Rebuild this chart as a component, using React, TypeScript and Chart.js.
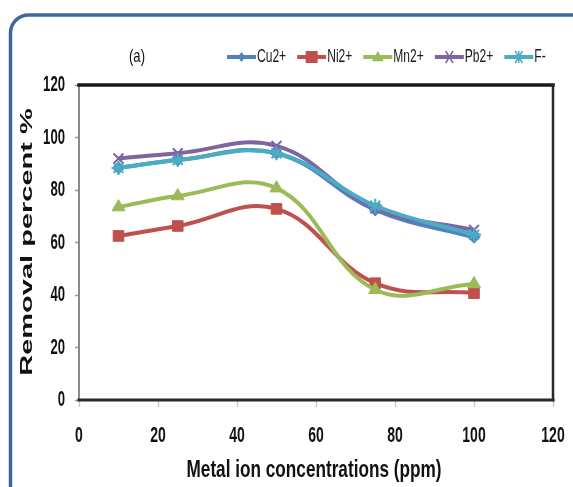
import React, { useEffect, useRef } from 'react';
import { Chart, registerables } from 'chart.js';

Chart.register(...registerables);

// ---- data ----
const concentrations = [10, 25, 50, 75, 100];
const cuValues = [88.4, 91.4, 94.0, 72.4, 62.0];
const niValues = [62.5, 66.3, 72.8, 44.5, 40.7];
const mnValues = [73.5, 77.7, 80.7, 42.0, 44.2];
const pbValues = [92.0, 94.0, 96.8, 73.0, 64.8];
const fValues = [88.4, 91.4, 94.0, 74.0, 63.0];
const seriesLabels = ['Cu2+', 'Ni2+', 'Mn2+', 'Pb2+', 'F-'];
const xTickValues = [0, 20, 40, 60, 80, 100, 120];
const yTickValues = [0, 20, 40, 60, 80, 100, 120];
const panelLabel = '(a)';
const xTitle = 'Metal ion concentrations (ppm)';
const yTitle = 'Removal percent %';

const colors = ['#4F81BD', '#C0504D', '#9BBB59', '#8064A2', '#4BACC6'];
const pointStyles = ['rectRot', 'rect', 'triangle', 'crossRot', 'star'];
const pointRadii = [6, 7.5, 7.5, 7, 7];
const drawOrder = [5, 4, 3, 2, 1];
const allValues = [cuValues, niValues, mnValues, pbValues, fValues];

const SANS = '"Liberation Sans", Arial, sans-serif';

function drawSqueezed(
  ctx: CanvasRenderingContext2D,
  text: string,
  x: number,
  y: number,
  font: string,
  sx: number,
  align: 'left' | 'center' | 'right',
  baseline: CanvasTextBaseline = 'middle'
) {
  ctx.save();
  ctx.font = font;
  ctx.textBaseline = baseline;
  ctx.textAlign = align;
  ctx.translate(x, y);
  ctx.scale(sx, 1);
  ctx.fillText(text, 0, 0);
  ctx.restore();
}

function measure(ctx: CanvasRenderingContext2D, text: string, font: string) {
  ctx.save();
  ctx.font = font;
  const w = ctx.measureText(text).width;
  ctx.restore();
  return w;
}

function drawFitted(
  ctx: CanvasRenderingContext2D,
  text: string,
  x: number,
  y: number,
  font: string,
  width: number,
  align: 'left' | 'center' | 'right',
  baseline: CanvasTextBaseline = 'middle'
) {
  const sx = width / measure(ctx, text, font);
  drawSqueezed(ctx, text, x, y, font, sx, align, baseline);
}

function drawMarker(ctx: CanvasRenderingContext2D, style: string, x: number, y: number, r: number, color: string) {
  ctx.save();
  ctx.fillStyle = color;
  ctx.strokeStyle = color;
  ctx.lineWidth = 1.5;
  ctx.beginPath();
  if (style === 'rectRot') {
    ctx.moveTo(x, y - r);
    ctx.lineTo(x + r * 0.75, y);
    ctx.lineTo(x, y + r);
    ctx.lineTo(x - r * 0.75, y);
    ctx.closePath();
    ctx.fill();
  } else if (style === 'rect') {
    ctx.rect(x - r, y - r, 2 * r, 2 * r);
    ctx.fill();
  } else if (style === 'triangle') {
    ctx.moveTo(x, y - r);
    ctx.lineTo(x + r, y + r * 0.7);
    ctx.lineTo(x - r, y + r * 0.7);
    ctx.closePath();
    ctx.fill();
  } else if (style === 'crossRot') {
    ctx.moveTo(x - r * 0.6, y - r);
    ctx.lineTo(x + r * 0.6, y + r);
    ctx.moveTo(x + r * 0.6, y - r);
    ctx.lineTo(x - r * 0.6, y + r);
    ctx.stroke();
  } else if (style === 'star') {
    ctx.moveTo(x - r * 0.6, y - r);
    ctx.lineTo(x + r * 0.6, y + r);
    ctx.moveTo(x + r * 0.6, y - r);
    ctx.lineTo(x - r * 0.6, y + r);
    ctx.moveTo(x, y - r);
    ctx.lineTo(x, y + r);
    ctx.stroke();
  }
  ctx.restore();
}

const decorPlugin = {
  id: 'decor',
  beforeDraw(chart: any) {
    const ctx: CanvasRenderingContext2D = chart.ctx;
    ctx.save();
    ctx.fillStyle = '#ffffff';
    ctx.fillRect(0, 0, chart.width, chart.height);
    const fx = 10.5, fy = 15, rad = 18;
    ctx.strokeStyle = '#3F679C';
    ctx.lineWidth = 3.5;
    ctx.beginPath();
    ctx.moveTo(fx, chart.height + 5);
    ctx.lineTo(fx, fy + rad);
    ctx.arcTo(fx, fy, fx + rad, fy, rad);
    ctx.lineTo(chart.width + 5, fy);
    ctx.stroke();
    ctx.restore();
  },
  afterDraw(chart: any) {
    const ctx: CanvasRenderingContext2D = chart.ctx;
    const a = chart.chartArea;
    const xs = chart.scales.x;
    const ys = chart.scales.y;
    ctx.save();
    // plot-area border
    ctx.lineCap = 'square';
    ctx.strokeStyle = '#8a8a8a';
    ctx.lineWidth = 2;
    ctx.beginPath();
    ctx.moveTo(a.left, a.top);
    ctx.lineTo(a.left, a.bottom);
    ctx.stroke();
    ctx.strokeStyle = '#1a1a1a';
    ctx.lineWidth = 3.5;
    ctx.beginPath();
    ctx.moveTo(a.left, a.top);
    ctx.lineTo(a.right, a.top);
    ctx.stroke();
    ctx.lineWidth = 3;
    ctx.strokeStyle = '#2a2a2a';
    ctx.beginPath();
    ctx.moveTo(a.left, a.bottom);
    ctx.lineTo(a.right, a.bottom);
    ctx.stroke();
    ctx.lineWidth = 2.5;
    ctx.beginPath();
    ctx.moveTo(a.right, a.top);
    ctx.lineTo(a.right, a.bottom);
    ctx.stroke();

    ctx.fillStyle = '#111';
    const tickFont = `bold 22px ${SANS}`;
    // y tick labels
    yTickValues.forEach((v) => {
      const s = String(v);
      drawFitted(ctx, s, a.left - 14, ys.getPixelForValue(v), tickFont, 7.3 * s.length, 'right');
    });
    // x tick labels
    xTickValues.forEach((v) => {
      const s = String(v);
      drawFitted(ctx, s, xs.getPixelForValue(v), 436, tickFont, 7.8 * s.length, 'center');
    });

    // panel label
    drawFitted(ctx, panelLabel, 137, 57, `19px ${SANS}`, 16, 'center');

    // legend
    const lgFont = `18px ${SANS}`;
    const lsx = 0.67;
    let x = 227;
    const ly = 57;
    seriesLabels.forEach((label, i) => {
      ctx.strokeStyle = colors[i];
      ctx.lineWidth = 4;
      ctx.lineCap = 'butt';
      ctx.beginPath();
      ctx.moveTo(x, ly);
      ctx.lineTo(x + 29, ly);
      ctx.stroke();
      drawMarker(ctx, pointStyles[i], x + 14.5, ly, i === 0 ? 5 : 6, colors[i]);
      ctx.fillStyle = '#1a1a1a';
      drawSqueezed(ctx, label, x + 30, ly, lgFont, lsx, 'left');
      x += 30 + measure(ctx, label, lgFont) * lsx + 11;
    });

    // x title
    ctx.fillStyle = '#111';
    drawFitted(ctx, xTitle, 314, 477, `bold 24px ${SANS}`, 255, 'center', 'alphabetic');

    // y title (rotated, squeezed)
    ctx.save();
    ctx.translate(32, 242);
    ctx.rotate(-Math.PI / 2);
    ctx.scale(1, 0.6);
    ctx.font = `bold 29px ${SANS}`;
    ctx.textAlign = 'center';
    ctx.textBaseline = 'alphabetic';
    ctx.fillStyle = '#111';
    ctx.fillText(yTitle, 0, 0);
    ctx.restore();

    ctx.restore();
  },
};

export default function App() {
  const canvasRef = useRef<HTMLCanvasElement | null>(null);

  useEffect(() => {
    const canvas = canvasRef.current;
    if (!canvas) return;
    const datasets = seriesLabels.map((label, i) => ({
      label,
      data: concentrations.map((c, j) => ({ x: c, y: allValues[i][j] })),
      borderColor: colors[i],
      backgroundColor: colors[i],
      pointBackgroundColor: colors[i],
      pointBorderColor: colors[i],
      pointStyle: pointStyles[i] as any,
      pointRadius: pointRadii[i],
      pointBorderWidth: i >= 3 ? 2 : 1,
      borderWidth: 4,
      tension: 0.4,
      order: drawOrder[i],
      clip: false as any,
    }));

    const chart = new Chart(canvas, {
      type: 'line',
      data: { datasets },
      plugins: [decorPlugin],
      options: {
        animation: false,
        responsive: false,
        devicePixelRatio: 1,
        layout: { padding: { left: 0, right: 20, top: 85, bottom: 0 } },
        plugins: {
          legend: { display: false },
          tooltip: { enabled: false },
          title: { display: false },
        },
        scales: {
          x: {
            type: 'linear',
            min: 0,
            max: 120,
            afterBuildTicks: (scale: any) => {
              scale.ticks = xTickValues.map((v) => ({ value: v }));
            },
            afterFit: (scale: any) => {
              scale.height = 87;
            },
            border: { display: false },
            grid: {
              drawOnChartArea: false,
              drawTicks: true,
              tickLength: 7,
              tickColor: '#c8c8c8',
              tickWidth: 1.5,
            },
            ticks: { display: false },
          },
          y: {
            type: 'linear',
            min: 0,
            max: 120,
            afterBuildTicks: (scale: any) => {
              scale.ticks = yTickValues.map((v) => ({ value: v }));
            },
            afterFit: (scale: any) => {
              scale.width = 79;
            },
            border: { display: false },
            grid: {
              drawOnChartArea: false,
              drawTicks: true,
              tickLength: 4,
              tickColor: '#999',
              tickWidth: 1.5,
            },
            ticks: { display: false },
          },
        },
      },
    });
    return () => chart.destroy();
  }, []);

  return (
    <div style={{ position: 'fixed', left: 0, top: 0, width: 573, height: 487, background: '#fff' }}>
      <canvas ref={canvasRef} width={573} height={487} style={{ width: 573, height: 487, display: 'block' }} />
    </div>
  );
}
